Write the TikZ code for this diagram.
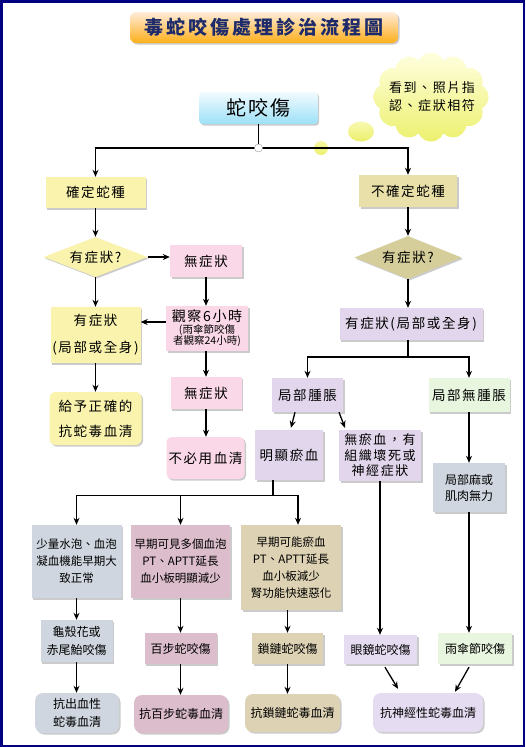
\documentclass[tikz,border=0pt]{standalone}
\usepackage{fontspec}
\setmainfont{Noto Sans CJK TC}
\newfontfamily\cjk{Noto Sans CJK TC}
\newfontfamily\cjksp[LetterSpace=12]{Noto Sans CJK TC}
\newfontfamily\cjkti[LetterSpace=16]{Noto Sans CJK TC}
\usetikzlibrary{shapes.geometric,shapes.symbols,shadows,arrows.meta}
\definecolor{navy}{HTML}{000080}
\definecolor{cYel}{HTML}{F9F3AD}
\definecolor{cKhaki}{HTML}{E8E0A8}
\definecolor{cPink}{HTML}{FAD8E7}
\definecolor{cLav}{HTML}{E2D6EC}
\definecolor{cLav2}{HTML}{E6DCF2}
\definecolor{cGreen}{HTML}{E8F5DF}
\definecolor{cBlue}{HTML}{CFD6DF}
\definecolor{cMauve}{HTML}{DCBDCB}
\definecolor{cTan}{HTML}{DDD2B3}
\definecolor{cTitle}{HTML}{1D2B6B}
\definecolor{cCloudTop}{HTML}{FFFFE2}
\definecolor{cCloudBot}{HTML}{ECF06A}
\definecolor{cSkyTop}{HTML}{F2FBFF}
\definecolor{cSkyBot}{HTML}{9CE0F7}
\newcommand\fup{\cjksp\fontsize{13.5}{16}\selectfont}
\newcommand\flo{\cjk\fontsize{11.5}{17}\selectfont}
\newcommand\fsm{\cjk\fontsize{10.5}{11.5}\selectfont}
\tikzset{
  base/.style={rectangle, inner sep=0pt, align=center,
    drop shadow={shadow xshift=1.5pt, shadow yshift=-1.5pt, fill=black!40, opacity=0.5}},
  upbox/.style={base, font=\fup},
  lobox/.style={base, font=\flo},
  arr/.style={line width=1.3pt, -{Stealth[length=7pt,width=6pt]}},
  ln/.style={line width=1.3pt},
}
\begin{document}
\begin{tikzpicture}[x=1pt,y=-1pt]
\useasboundingbox (0,0) rectangle (525,747);
\fill[white] (0,0) rectangle (525,747);
\draw[navy, line width=2.5pt] (1.25,1.25) rectangle (523.75,745.75);

% title
\node[base, rounded corners=6pt, top color=orange!15, bottom color=orange!70!yellow!90,
  minimum width=268pt, minimum height=31pt, text=cTitle,
  font=\cjkti\fontsize{19}{22}\selectfont\bfseries] (title) at (264,27.5) {毒蛇咬傷處理診治流程圖};

% cloud and bubbles
\begin{scope}
  \clip (431,97) ellipse (46pt and 33pt)
    \foreach \a in {0,30,...,330} { (431+44*cos \a, 97+31*sin \a) circle (13.5pt) };
  \shade[top color=cCloudTop, bottom color=cCloudBot] (370,50) rectangle (492,145);
\end{scope}
\node[align=center, inner sep=0pt, font=\cjksp\fontsize{13}{18}\selectfont] (cloud) at (432,97) {看到、照片指\\認、症狀相符};
\shade[top color=cCloudTop!60!cCloudBot, bottom color=cCloudBot] (361,131.5) ellipse (13pt and 10pt);
\shade[top color=cCloudTop!50!cCloudBot, bottom color=cCloudBot] (321,148) circle (7pt);

% snake bite box
\node[base, rounded corners=3pt, top color=cSkyTop, bottom color=cSkyBot,
  minimum width=118pt, minimum height=32pt, font=\cjksp\fontsize{20}{22}\selectfont] (snake) at (258.5,108) {蛇咬傷};

\coordinate (j) at (258.5,148);
\node[upbox, fill=cYel, minimum width=100pt, minimum height=31pt] (sure) at (95.5,192.5) {確定蛇種};
\node[upbox, fill=cKhaki, minimum width=98pt, minimum height=32pt] (unsure) at (408,191) {不確定蛇種};
\draw[ln] (snake.south) -- (j);
\draw[arr] (j) -| (sure.north);
\draw[arr] (j) -| (unsure.north);
\node[circle, fill=white, draw=black!40, line width=0.4pt, minimum size=8pt, inner sep=0pt] (jc) at (j) {};

% left branch
\node[diamond, aspect=2.6, inner sep=0pt, minimum width=104pt, minimum height=40pt, fill=cYel, font=\fup,
  drop shadow={shadow xshift=1.5pt, shadow yshift=-1.5pt, fill=black!40, opacity=0.5}] (d1) at (95.5,257) {有症狀?};
\node[upbox, fill=cPink, minimum width=72pt, minimum height=32pt] (nosym1) at (206,261) {無症狀};
\node[base, fill=cPink, minimum width=82pt, minimum height=45pt, font=\fsm] (obs) at (207,328.5)
  {{\cjksp\fontsize{14}{16}\selectfont 觀察6小時}\\(雨傘節咬傷\\者觀察24小時)};
\node[upbox, fill=cYel, minimum width=90pt, minimum height=56pt, font=\cjksp\fontsize{13.5}{27}\selectfont] (sym1) at (95.5,335) {有症狀\\(局部或全身)};
\node[upbox, fill=cPink, minimum width=71pt, minimum height=32pt] (nosym2) at (206,393) {無症狀};
\node[upbox, fill=cPink, rounded corners=5pt, minimum width=78pt, minimum height=42pt] (noserum) at (205.5,458) {不必用血清};
\node[upbox, fill=cYel, rounded corners=6pt, minimum width=92pt, minimum height=53pt, font=\cjksp\fontsize{13.5}{25}\selectfont] (give) at (95.5,418.5) {給予正確的\\抗蛇毒血清};

\draw[arr] (sure.south) -- (d1.north);
\draw[arr] (d1.east) -- (d1.east -| nosym1.west);
\draw[arr] (d1.south) -- (sym1.north);
\draw[arr] (nosym1.south) -- (nosym1.south |- obs.north);
\draw[arr] ([yshift=6.5pt]obs.west) -- ([yshift=6.5pt]obs.west -| sym1.east);
\draw[arr] (obs.south -| nosym2.north) -- (nosym2.north);
\draw[arr] (nosym2.south) -- (nosym2.south |- noserum.north);
\draw[arr] (sym1.south) -- (give.north);

% right branch
\node[diamond, aspect=2.5, inner sep=0pt, minimum width=107pt, minimum height=43pt, fill=cKhaki!92!black, font=\fup,
  drop shadow={shadow xshift=1.5pt, shadow yshift=-1.5pt, fill=black!40, opacity=0.5}] (d2) at (408,257.5) {有症狀?};
\node[upbox, fill=cLav, minimum width=143pt, minimum height=32pt] (sym2) at (411,324) {有症狀(局部或全身)};
\coordinate (j2) at (408,357);
\node[upbox, fill=cLav, minimum width=71pt, minimum height=34pt] (swell) at (307.5,395) {局部腫脹};
\node[upbox, fill=cGreen, minimum width=81pt, minimum height=34pt] (noswell) at (469,395) {局部無腫脹};
\node[upbox, fill=cLav, minimum width=68pt, minimum height=50pt] (bruise) at (289,455) {明顯瘀血};
\node[upbox, fill=cLav, minimum width=82pt, minimum height=51pt, font=\cjksp\fontsize{13}{15.5}\selectfont] (nobruise) at (380,455.5) {無瘀血，有\\組織壞死或\\神經症狀};
\node[lobox, fill=cBlue, minimum width=72pt, minimum height=49pt, font=\cjk\fontsize{12}{16}\selectfont] (numb) at (469,487.5) {局部麻或\\肌肉無力};

\draw[arr] (unsure.south) -- (unsure.south |- d2.north);
\draw[arr] (d2.south) -- (d2.south |- sym2.north);
\draw[ln] (sym2.south -| j2) -- (j2);
\draw[arr] (j2) -| (swell.north);
\draw[arr] (j2) -| (noswell.north);
\draw[arr] ([xshift=-12.5pt]swell.south) -- ([xshift=2pt,yshift=2pt]bruise.north);
\draw[arr] ([xshift=31.5pt]swell.south) -- ([xshift=-35pt,yshift=2pt]nobruise.north);
\draw[arr] (noswell.south) -- (noswell.south |- numb.north);

% bottom rows
\coordinate (j3) at (273,495.5);
\node[lobox, fill=cBlue, minimum width=90pt, minimum height=73pt] (A) at (76.5,561.5) {少量水泡、血泡\\凝血機能早期大\\致正常};
\node[lobox, fill=cMauve, minimum width=99pt, minimum height=73pt] (B) at (180.5,561.5) {早期可見多個血泡\\PT、APTT延長\\血小板明顯減少};
\node[lobox, fill=cTan, minimum width=100pt, minimum height=85pt] (C) at (291,567.5) {早期可能瘀血\\PT、APTT延長\\血小板減少\\腎功能快速惡化};

\draw[ln] (bruise.south -| j3) -- (j3);
\draw[arr] (j3) -| (A.north);
\draw[arr] (j3) -| (B.north);
\draw[arr] (j3) -| ([xshift=7pt]C.north);

\tikzset{lo2/.style={lobox, font=\cjk\fontsize{12}{18}\selectfont}}
\node[lo2, fill=cBlue, minimum width=72pt, minimum height=42pt] (A2) at (76.5,641) {龜殼花或\\赤尾鮐咬傷};
\node[lo2, fill=cMauve, minimum width=72pt, minimum height=31pt] (B2) at (180.5,648.5) {百步蛇咬傷};
\node[lo2, fill=cTan, minimum width=71pt, minimum height=31pt] (C2) at (287.5,648.5) {鎖鏈蛇咬傷};
\node[lo2, fill=cLav2, minimum width=73pt, minimum height=29pt] (cobra) at (380.5,649.5) {眼鏡蛇咬傷};
\node[lo2, fill=cGreen, minimum width=74pt, minimum height=31pt] (krait) at (475,648.5) {雨傘節咬傷};

\node[lo2, fill=cBlue, rounded corners=8pt, minimum width=84pt, minimum height=40pt] (R1) at (77,713) {抗出血性\\蛇毒血清};
\node[lo2, fill=cMauve, rounded corners=8pt, minimum width=94pt, minimum height=38pt] (R2) at (181,714) {抗百步蛇毒血清};
\node[lo2, fill=cTan, rounded corners=8pt, minimum width=95pt, minimum height=38pt] (R3) at (292.5,713) {抗鎖鏈蛇毒血清};
\node[lo2, fill=cLav2, rounded corners=8pt, minimum width=110pt, minimum height=39pt] (R4) at (428,712.5) {抗神經性蛇毒血清};

\draw[arr] (A.south) -- (A2.north);
\draw[arr] (B.south) -- (B2.north);
\draw[arr] (C.south -| C2.north) -- (C2.north);
\draw[arr] (nobruise.south) -- (nobruise.south |- cobra.north);
\draw[arr] (numb.south) -- (numb.south |- krait.north);
\draw[arr] (A2.south) -- (A2.south |- R1.north);
\draw[arr] (B2.south) -- (B2.south |- R2.north);
\draw[arr] (C2.south) -- (C2.south |- R3.north);
\draw[arr] ([xshift=4.5pt,yshift=-3pt]cobra.south) -- ([xshift=-30pt,yshift=4pt]R4.north);
\draw[arr] ([xshift=-6pt,yshift=-3pt]krait.south) -- ([xshift=27pt,yshift=1pt]R4.north);
\end{tikzpicture}
\end{document}
